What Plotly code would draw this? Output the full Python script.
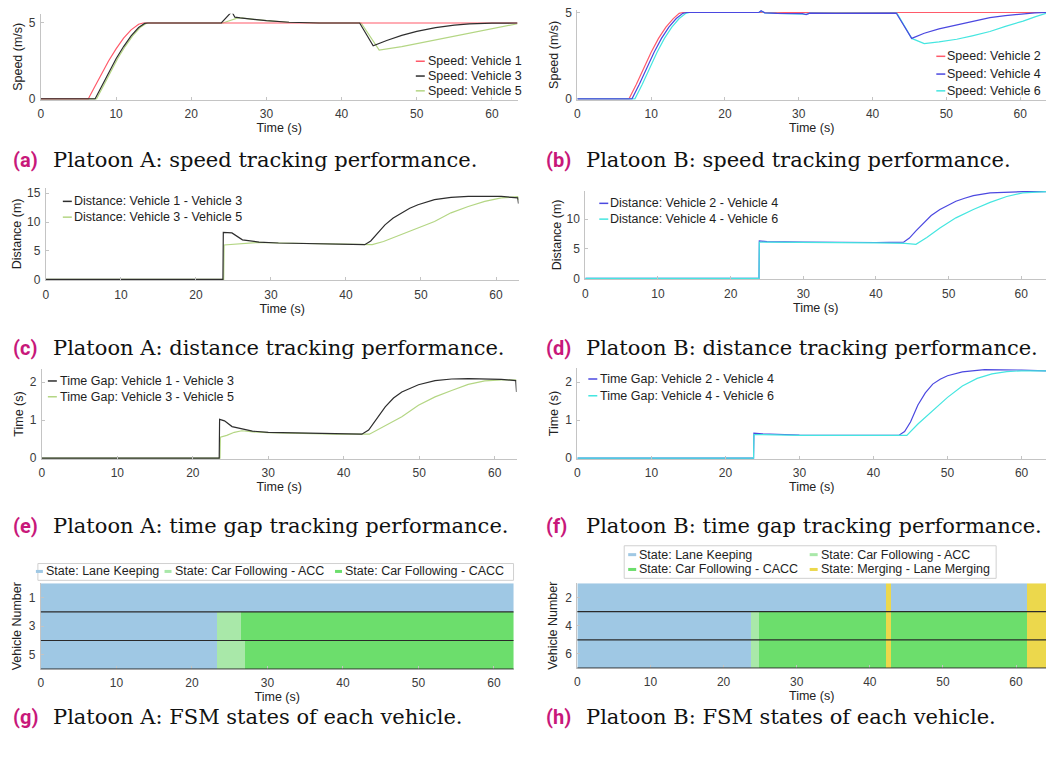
import numpy as np
import plotly.graph_objects as go

W, H = 1046, 760

# ---------------- data ----------------
# Platoon A speeds (m/s)
t_speed_v1 = [0, 6.3, 7, 8, 9, 10, 11, 12, 13, 13.6, 63.4]
speed_v1 = [0, 0, 0.65, 1.6, 2.5, 3.3, 4.0, 4.55, 4.92, 5.0, 5.0]
t_speed_v3 = [0, 7.2, 8, 9, 10, 11, 12, 13, 13.8, 14.2, 24.0, 25.4, 25.8, 26.5, 28, 30, 33, 37,
              42.4, 44.2, 46, 48, 50, 52.5, 55, 57, 60, 63.4]
speed_v3 = [0, 0, 0.75, 1.75, 2.65, 3.45, 4.15, 4.7, 4.97, 5.0, 5.0, 5.75, 5.38, 5.33, 5.25, 5.15,
            5.05, 5.0, 5.0, 3.5, 3.85, 4.18, 4.45, 4.7, 4.86, 4.94, 4.99, 5.0]
t_speed_v5 = [0, 7.4, 8.2, 9.2, 10.2, 11.2, 12.2, 13.2, 14.0, 14.4, 24.2, 26.3, 28, 30, 33, 37,
              42.6, 45.0, 48, 52.4, 56.8, 61, 63.4]
speed_v5 = [0, 0, 0.75, 1.75, 2.65, 3.45, 4.15, 4.7, 4.97, 5.0, 5.0, 5.35, 5.26, 5.15, 5.05, 5.0,
            5.0, 3.22, 3.45, 3.87, 4.3, 4.72, 4.95]

# Platoon B speeds (m/s)
t_speed_v2 = [0, 7.0, 8, 9, 10, 11, 12, 13, 13.8, 14.3, 63.5]
speed_v2 = [0, 0, 0.85, 1.8, 2.7, 3.5, 4.15, 4.65, 4.95, 5.0, 5.0]
t_speed_v4 = [0, 7.4, 8.4, 9.4, 10.4, 11.4, 12.4, 13.4, 14.3, 14.8, 24.6, 24.9, 25.4, 27, 30.5,
              31, 31.5, 35, 43.2, 45.3, 47, 49, 51.4, 53.5, 55.9, 58, 60.4, 62, 63.5]
speed_v4 = [0, 0, 0.85, 1.8, 2.7, 3.5, 4.15, 4.65, 4.95, 5.0, 5.0, 5.1, 4.98, 4.95, 4.93, 4.88,
            4.96, 4.95, 4.97, 3.5, 3.8, 4.05, 4.27, 4.5, 4.7, 4.82, 4.92, 4.98, 5.0]
t_speed_v6 = [0, 7.8, 8.8, 9.8, 10.8, 11.8, 12.8, 13.8, 14.7, 15.2, 24.6, 24.9, 25.4, 27, 30.5,
              31, 31.5, 35, 43.3, 45.3, 47.0, 49, 51.4, 53.5, 55.9, 58, 60.4, 62, 63.5]
speed_v6 = [0, 0, 0.85, 1.8, 2.7, 3.5, 4.15, 4.65, 4.95, 5.0, 5.0, 5.08, 4.98, 4.95, 4.93, 4.9,
            4.96, 4.95, 4.97, 3.5, 3.2, 3.3, 3.45, 3.65, 3.9, 4.2, 4.5, 4.75, 4.95]

# Platoon A inter-vehicle distances (m)
t_dist_13 = [0, 23.6, 23.65, 24.8, 26.2, 28.4, 31, 34.1, 38.5, 42.5, 43.3, 44.2, 45.2, 46.3, 47.4,
             48.5, 49.6, 51.8, 54, 56.3, 60.7, 62.4, 62.9, 63.0]
dist_13 = [0, 0, 8.2, 8.1, 6.9, 6.5, 6.35, 6.25, 6.1, 6.05, 6.7, 8.1, 9.5, 10.7, 11.6, 12.4, 13.0,
           13.9, 14.3, 14.45, 14.45, 14.2, 14.2, 13.2]
t_dist_35 = [0, 23.7, 23.75, 25, 26.5, 28.4, 31, 34.1, 38.5, 43.5, 45, 47.4, 49.6, 51.8, 54, 56.3,
             58.5, 60.7, 62.9, 63.0]
dist_35 = [0, 0, 6.0, 6.1, 6.35, 6.45, 6.35, 6.25, 6.1, 6.05, 6.6, 7.8, 9.0, 10.1, 11.6, 12.7,
           13.6, 14.2, 14.4, 13.8]

# Platoon B inter-vehicle distances (m)
t_dist_24 = [0, 23.9, 23.95, 25, 30, 35, 40, 43.8, 44.6, 45.5, 46.5, 47.6, 48.8, 50, 51, 52.2,
             53.4, 55.7, 58, 60.2, 63.4]
dist_24 = [0, 0, 6.3, 6.2, 6.1, 6.05, 6.05, 6.1, 6.8, 8.0, 9.3, 10.6, 11.6, 12.4, 13.0, 13.5,
           13.95, 14.4, 14.55, 14.6, 14.6]
t_dist_46 = [0, 23.9, 23.95, 25, 30, 35, 40, 44, 45.5, 47, 48.8, 51, 53.4, 55.7, 58, 60.2, 63.4]
dist_46 = [0, 0, 6.1, 6.1, 6.0, 6.0, 6.0, 5.9, 5.75, 6.9, 8.5, 10.2, 11.6, 12.8, 13.8, 14.4, 14.6]

# Platoon A time gaps (s)
t_gap_13 = [0, 23.5, 23.55, 24.2, 25.2, 26.6, 27.9, 30, 34.5, 38.9, 42.4, 43.3, 44.4, 45.5, 46.6,
            47.7, 49.9, 52.1, 54.3, 56.5, 60.9, 62.2, 62.8, 62.9]
gap_13 = [0, 0, 1.02, 0.98, 0.83, 0.76, 0.71, 0.68, 0.66, 0.63, 0.63, 0.74, 1.05, 1.35, 1.58,
          1.74, 1.93, 2.04, 2.08, 2.09, 2.07, 2.04, 2.04, 1.74]
t_gap_35 = [0, 23.6, 23.65, 24.5, 25.5, 26.5, 28, 30, 34.5, 38.9, 43.4, 44.4, 45.5, 46.6, 47.7,
            49.9, 52.1, 54.3, 56.5, 58.7, 60.9, 62.9]
gap_35 = [0, 0, 0.55, 0.6, 0.68, 0.72, 0.69, 0.67, 0.65, 0.63, 0.63, 0.74, 0.87, 0.97, 1.09,
          1.39, 1.61, 1.78, 1.94, 2.03, 2.06, 2.05]

# Platoon B time gaps (s)
t_gap_24 = [0, 23.8, 23.85, 25, 30, 35, 40, 43.5, 44.2, 45, 46, 47, 48, 49, 50, 52, 55, 60, 63.3]
gap_24 = [0, 0, 0.66, 0.64, 0.61, 0.6, 0.6, 0.61, 0.7, 0.95, 1.4, 1.72, 1.95, 2.08, 2.17, 2.27,
          2.33, 2.32, 2.3]
t_gap_46 = [0, 23.8, 23.85, 25, 30, 35, 40, 44.5, 46, 48, 50, 52, 54, 56, 58, 60, 63.3]
gap_46 = [0, 0, 0.62, 0.62, 0.6, 0.6, 0.6, 0.6, 0.9, 1.25, 1.6, 1.9, 2.1, 2.22, 2.28, 2.3, 2.3]

# FSM states: (start s, end s, state index)
state_names = ["State: Lane Keeping", "State: Car Following - ACC",
               "State: Car Following - CACC", "State: Merging - Lane Merging"]
state_colors = ["#9fc8e4", "#a9e8a9", "#6cde6c", "#ecd84c"]
vehicles_a = [1, 3, 5]
states_a = [
    [(0, 64.5, 0)],
    [(0, 23.3, 0), (23.3, 26.5, 1), (26.5, 64.5, 2)],
    [(0, 23.3, 0), (23.3, 27.0, 1), (27.0, 64.5, 2)],
]
vehicles_b = [2, 4, 6]
states_b = [
    [(0, 42.2, 0), (42.2, 42.8, 3), (42.8, 61.4, 0), (61.4, 64.5, 3)],
    [(0, 23.7, 0), (23.7, 24.8, 1), (24.8, 42.2, 2), (42.2, 42.8, 3), (42.8, 61.4, 2), (61.4, 64.5, 3)],
    [(0, 23.7, 0), (23.7, 24.8, 1), (24.8, 42.2, 2), (42.2, 42.8, 3), (42.8, 61.4, 2), (61.4, 64.5, 3)],
]

# ---------------- styling ----------------
C_RED = "#ff5a6a"
C_DARK = "#2e2e2e"
C_LGREEN = "#b4d684"
C_BLUE = "#4b48e0"
C_CYAN = "#45e6e0"
FONT = "Liberation Sans, Arial, sans-serif"
SERIF = "DejaVu Serif, serif"
TICK_COLOR = "#3a3a3a"
AXIS_LINE = "#c4c4c4"


def px(x):
    return x / W


def py(y):
    return 1 - y / H


fig = go.Figure()

# panel: (x0, x1, ytop, ybottom, xrange, yrange, ytickvals, ytitle, ytitle_standoff,
#         xtitle_standoff, xtick_standoff)
panels = {
    1: (38, 516, 10, 97, [0, 63.4], [-0.05, 5.6], [0, 5], "Speed (m/s)", 3, 2, 3),
    2: (576, 1046, 6, 97, [0, 63.5], [-0.05, 5.15], [0, 5], "Speed (m/s)", 3, 2, 3),
    3: (43, 517, 186, 280, [0, 63.0], [-0.15, 16.0], [0, 5, 10, 15], "Distance (m)", 2, 2, 3),
    4: (584, 1046, 189, 279, [0, 63.4], [-0.15, 14.8], [0, 5, 10], "Distance (m)", 2, 2, 3),
    5: (39, 515, 370, 461, [0, 62.9], [-0.02, 2.34], [0, 1, 2], "Time (s)", 3, 2, 3),
    6: (576, 1046, 369, 461, [0, 63.3], [-0.02, 2.37], [0, 1, 2], "Time (s)", 3, 2, 3),
    7: (38, 512, 587, 674, [0, 62.6], [6, 0], [1, 3, 5], "Vehicle Number", 4, 0, 2),
    8: (576, 1046, 587, 673, [0, 64.1], [7, 1], [2, 4, 6], "Vehicle Number", 4, 0, 2),
}

layout_axes = {}
for k, (x0, x1, yt, yb, xr, yr, yv, ytitle, ystand, xstand, xtstand) in panels.items():
    xname = "xaxis" if k == 1 else f"xaxis{k}"
    yname = "yaxis" if k == 1 else f"yaxis{k}"
    yref = "y" if k == 1 else f"y{k}"
    xref = "x" if k == 1 else f"x{k}"
    layout_axes[xname] = dict(
        domain=[px(x0), px(x1)], range=xr, anchor=yref,
        tickvals=[0, 10, 20, 30, 40, 50, 60], showgrid=False, zeroline=False,
        showline=True, linecolor=AXIS_LINE, linewidth=1,
        ticks="inside", ticklen=3, tickcolor=AXIS_LINE,
        tickfont=dict(family=FONT, size=12, color=TICK_COLOR), ticklabelstandoff=xtstand,
        title=dict(text="Time (s)", font=dict(family=FONT, size=12.5, color="#222"), standoff=xstand),
    )
    layout_axes[yname] = dict(
        domain=[py(yb), py(yt)], range=yr, anchor=xref,
        tickvals=yv, showgrid=False, zeroline=False,
        showline=True, linecolor=AXIS_LINE, linewidth=1,
        ticks="inside", ticklen=3, tickcolor=AXIS_LINE,
        tickfont=dict(family=FONT, size=12, color=TICK_COLOR), ticklabelstandoff=2,
        title=dict(text=ytitle, font=dict(family=FONT, size=12.5, color="#222"), standoff=ystand),
    )


def add_line(k, t, v, color, width=1.2):
    xref = "x" if k == 1 else f"x{k}"
    yref = "y" if k == 1 else f"y{k}"
    fig.add_trace(go.Scatter(x=t, y=v, mode="lines", xaxis=xref, yaxis=yref,
                             line=dict(color=color, width=width), showlegend=False,
                             hoverinfo="skip"))


# speed tracking
add_line(1, t_speed_v5, speed_v5, C_LGREEN)
add_line(1, t_speed_v1, speed_v1, C_RED)
add_line(1, t_speed_v3, speed_v3, C_DARK)
add_line(2, t_speed_v2, speed_v2, C_RED)
add_line(2, t_speed_v6, speed_v6, C_CYAN)
add_line(2, t_speed_v4, speed_v4, C_BLUE)
# distance tracking
add_line(3, t_dist_35, dist_35, C_LGREEN)
add_line(3, t_dist_13, dist_13, C_DARK)
add_line(4, t_dist_24, dist_24, C_BLUE)
add_line(4, t_dist_46, dist_46, C_CYAN)
# time gap tracking
add_line(5, t_gap_35, gap_35, C_LGREEN)
add_line(5, t_gap_13, gap_13, C_DARK)
add_line(6, t_gap_24, gap_24, C_BLUE)
add_line(6, t_gap_46, gap_46, C_CYAN)

# FSM state maps
t_grid = np.arange(0.05, 64.5, 0.1)
n_states = len(state_colors)
colorscale = []
for i, c in enumerate(state_colors):
    colorscale.append([i / n_states, c])
    colorscale.append([(i + 1) / n_states, c])


def state_matrix(segments):
    z = []
    for segs in segments:
        row = np.zeros_like(t_grid, dtype=int)
        for s0, s1, code in segs:
            row[(t_grid >= s0) & (t_grid < s1)] = code
        z.append(row.tolist())
    return z


for k, vehicles, segs in [(7, vehicles_a, states_a), (8, vehicles_b, states_b)]:
    fig.add_trace(go.Heatmap(x=t_grid, y=vehicles, z=state_matrix(segs), xaxis=f"x{k}", yaxis=f"y{k}",
                             colorscale=colorscale, zmin=-0.5, zmax=n_states - 0.5,
                             showscale=False, hoverinfo="skip"))
    # row separators
    for v in vehicles:
        fig.add_shape(type="line", xref=f"x{k} domain", yref=f"y{k}", x0=0, x1=1,
                      y0=v + 1, y1=v + 1, line=dict(color="#2a2a2a", width=1.2))

shapes = list(fig.layout.shapes)
annotations = []


def legend_lines(entries, x_sample, x_text, rows, size=12.5, dash=9, width=1.5):
    for (name, color), yy in zip(entries, rows):
        shapes.append(dict(type="line", xref="paper", yref="paper",
                           x0=px(x_sample), x1=px(x_sample + dash), y0=py(yy), y1=py(yy),
                           line=dict(color=color, width=width)))
        annotations.append(dict(text=name, xref="paper", yref="paper", x=px(x_text), y=py(yy),
                                xanchor="left", yanchor="middle", showarrow=False,
                                font=dict(family=FONT, size=size, color="#1e1e1e")))


legend_lines([("Speed: Vehicle 1", C_RED), ("Speed: Vehicle 3", C_DARK), ("Speed: Vehicle 5", C_LGREEN)],
             414, 424, [58, 73, 88])
legend_lines([("Speed: Vehicle 2", C_RED), ("Speed: Vehicle 4", C_BLUE), ("Speed: Vehicle 6", C_CYAN)],
             936, 945, [53, 71, 88])
legend_lines([("Distance: Vehicle 1 - Vehicle 3", C_DARK), ("Distance: Vehicle 3 - Vehicle 5", C_LGREEN)],
             60, 69, [200, 216])
legend_lines([("Distance: Vehicle 2 - Vehicle 4", C_BLUE), ("Distance: Vehicle 4 - Vehicle 6", C_CYAN)],
             598, 607, [202, 218])
legend_lines([("Time Gap: Vehicle 1 - Vehicle 3", C_DARK), ("Time Gap: Vehicle 3 - Vehicle 5", C_LGREEN)],
             45, 55, [382, 398])
legend_lines([("Time Gap: Vehicle 2 - Vehicle 4", C_BLUE), ("Time Gap: Vehicle 4 - Vehicle 6", C_CYAN)],
             587, 597, [380, 397])

# state legends (boxed)
shapes.append(dict(type="rect", xref="paper", yref="paper", x0=px(35), x1=px(512), y0=py(584), y1=py(567),
                   line=dict(color="#d0d0d0", width=1), fillcolor="white", layer="above"))
shapes.append(dict(type="rect", xref="paper", yref="paper", x0=px(623), x1=px(996), y0=py(582), y1=py(549),
                   line=dict(color="#d0d0d0", width=1), fillcolor="white", layer="above"))
legend_lines([(state_names[0], state_colors[0])], 33, 41, [575], dash=7, width=3)
legend_lines([(state_names[1], state_colors[1])], 162, 170, [575], dash=7, width=3)
legend_lines([(state_names[2], state_colors[2])], 333, 341, [575], dash=7, width=3)
legend_lines([(state_names[0], state_colors[0]), (state_names[2], state_colors[2])], 627, 636, [558, 573],
             dash=8, width=3)
legend_lines([(state_names[1], state_colors[1]), (state_names[3], state_colors[3])], 809, 818, [558, 573],
             dash=8, width=3)

# sub-figure captions
captions = [
    ("(a)", "Platoon A: speed tracking performance.", 8, 158),
    ("(b)", "Platoon B: speed tracking performance.", 543, 158),
    ("(c)", "Platoon A: distance tracking performance.", 8, 349),
    ("(d)", "Platoon B: distance tracking performance.", 543, 349),
    ("(e)", "Platoon A: time gap tracking performance.", 8, 529),
    ("(f)", "Platoon B: time gap tracking performance.", 543, 529),
    ("(g)", "Platoon A: FSM states of each vehicle.", 8, 722),
    ("(h)", "Platoon B: FSM states of each vehicle.", 543, 722),
]
for tag, text, x0, y0 in captions:
    annotations.append(dict(text=f"<b>{tag}</b>", xref="paper", yref="paper", x=px(x0), y=py(y0),
                            xanchor="left", yanchor="middle", showarrow=False,
                            font=dict(family="Roboto, sans-serif", size=20, color="#c8187a")))
    annotations.append(dict(text=text, xref="paper", yref="paper", x=px(x0 + 40), y=py(y0),
                            xanchor="left", yanchor="middle", showarrow=False,
                            font=dict(family=SERIF, size=21, color="#111")))

fig.update_layout(
    width=W, height=H, margin=dict(l=0, r=0, t=0, b=0),
    paper_bgcolor="white", plot_bgcolor="white",
    showlegend=False, shapes=shapes, annotations=annotations,
    **layout_axes,
)

fig.write_html("out.html")
